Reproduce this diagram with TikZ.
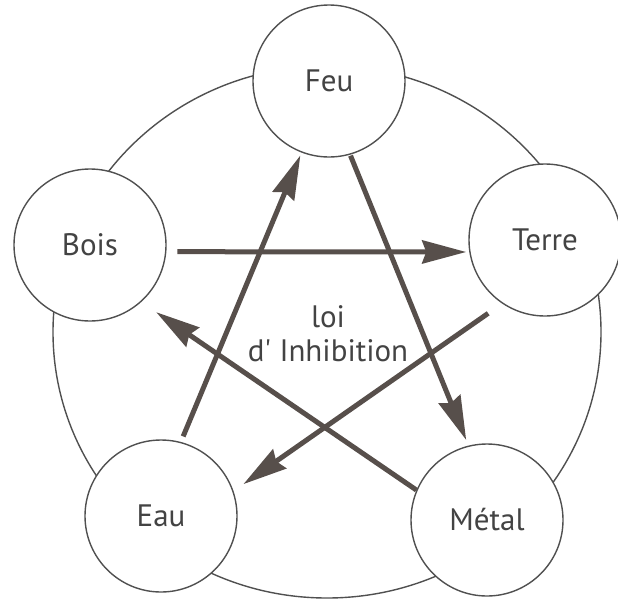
\documentclass[tikz,border=0pt]{standalone}
\usepackage{fontspec}
\setmainfont{PT Sans}
\usetikzlibrary{arrows.meta}
\definecolor{LineGray}{HTML}{505050}
\definecolor{ArrowBrown}{HTML}{574F4B}
\definecolor{TextGray}{HTML}{434343}

\begin{document}
\begin{tikzpicture}[
  x=1pt,y=-1pt,
  elem/.style={draw=LineGray,line width=1.4pt,circle,fill=white,minimum size=152pt,inner sep=0pt,text=TextGray,font=\fontsize{31}{35}\selectfont},
  arr/.style={-{Stealth[length=44pt,width=23pt,inset=4pt]},line width=5pt,draw=ArrowBrown,fill=ArrowBrown}
]
\useasboundingbox (0,0) rectangle (618,600);
\draw[LineGray,line width=1.4pt] (327,332) ellipse [x radius=274,y radius=266];
\node[elem] (feu) at (329,81) {Feu};
\node[elem] (bois) at (90,245) {Bois};
\node[elem] (terre) at (545,240) {Terre};
\node[elem] (eau) at (161,516) {Eau};
\node[elem] (metal) at (487,520) {Métal};
\node[text=TextGray,align=center,font=\fontsize{31}{34}\selectfont] (loi) at (328,334) {loi\\d\textquotesingle{} Inhibition};
\draw[arr,shorten <=11pt,shorten >=3pt] (bois.-5) -- (terre.189);
\draw[arr,shorten <=6pt,shorten >=3pt] (eau.75) -- (feu.-111);
\draw[arr,shorten <=1pt,shorten >=6pt] (feu.-74) -- (metal.104);
\draw[arr,shorten <=17pt,shorten >=12pt] (terre.-124) -- (eau.19);
\draw[arr,shorten >=18pt] (metal.157) -- (bois.-48);
\end{tikzpicture}
\end{document}
